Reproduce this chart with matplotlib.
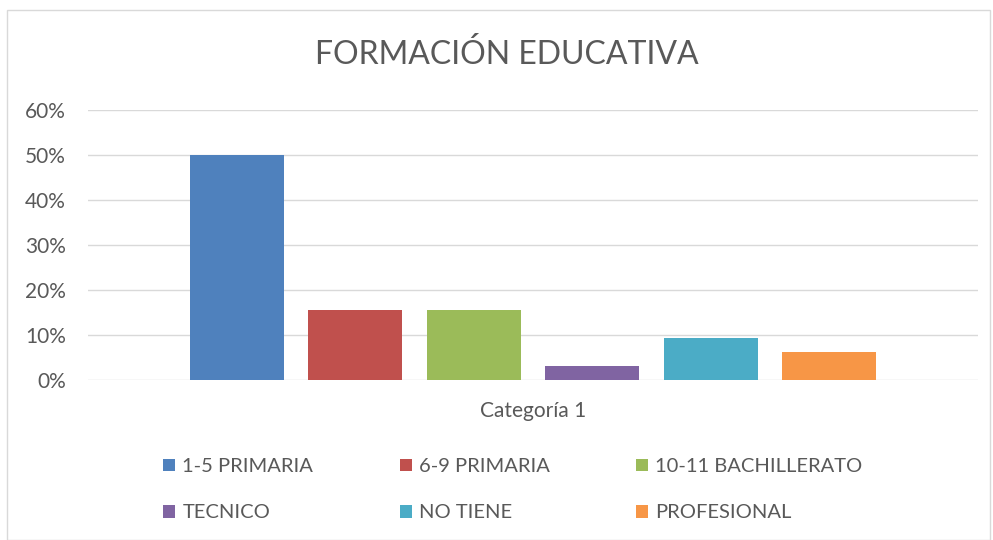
import matplotlib
matplotlib.use("Agg")
import matplotlib.pyplot as plt
from matplotlib.patches import Rectangle
from matplotlib.ticker import FuncFormatter
import numpy as np

plt.rcParams["font.family"] = ["Lato", "DejaVu Sans"]

# datos
categoria = "Categoría 1"
series = ["1-5 PRIMARIA", "6-9 PRIMARIA", "10-11 BACHILLERATO",
          "TECNICO", "NO TIENE", "PROFESIONAL"]
valores = [0.50, 0.156, 0.156, 0.031, 0.094, 0.0625]
colores = ["#4f81bd", "#c0504d", "#9bbb59", "#8064a2", "#4bacc6", "#f79646"]

texto = "#595959"
grid = "#d9d9d9"

fig = plt.figure(figsize=(9.93, 5.4), dpi=100)
ax = fig.add_axes([88 / 993, 1 - 380 / 540, 890 / 993, 270 / 540])

paso = 0.1331
ancho = 0.1056
barras = []
for i, (nombre, v, c) in enumerate(zip(series, valores, colores)):
    b = ax.bar((i - 2.5) * paso, v, width=ancho, color=c, label=nombre, zorder=3)
    barras.append(b)

ax.set_xlim(-0.5, 0.5)
ax.set_ylim(0, 0.6)
ax.set_yticks(np.arange(0, 0.61, 0.1))
ax.yaxis.set_major_formatter(FuncFormatter(lambda y, p: "{:.0%}".format(y)))
ax.set_xticks([0])
ax.set_xticklabels([categoria])
ax.tick_params(axis="both", length=0, labelsize=15, colors=texto)
ax.tick_params(axis="y", pad=16)
ax.tick_params(axis="x", pad=15)
ax.grid(axis="y", color=grid, linewidth=1, zorder=0)
for s in ax.spines.values():
    s.set_visible(False)

fig.text(0.51, 1 - 55 / 540, "FORMACIÓN EDUCATIVA", ha="center", va="center",
         fontsize=23, color=texto)

# leyenda por filas
orden = [0, 3, 1, 4, 2, 5]
fig.legend([barras[i] for i in orden], [series[i] for i in orden],
           loc="upper left", bbox_to_anchor=(145 / 993, 1 - 440 / 540), ncol=3,
           frameon=False, fontsize=14.5, handlelength=0.6, handleheight=0.6,
           handletextpad=0.35, columnspacing=4.3, labelspacing=1.45,
           labelcolor=texto)

fig.add_artist(Rectangle((7 / 993, 0), 983 / 993, 1 - 10 / 540,
                         transform=fig.transFigure, fill=False,
                         edgecolor=grid, linewidth=1))

fig.savefig("out.png", dpi=100, facecolor="white")
